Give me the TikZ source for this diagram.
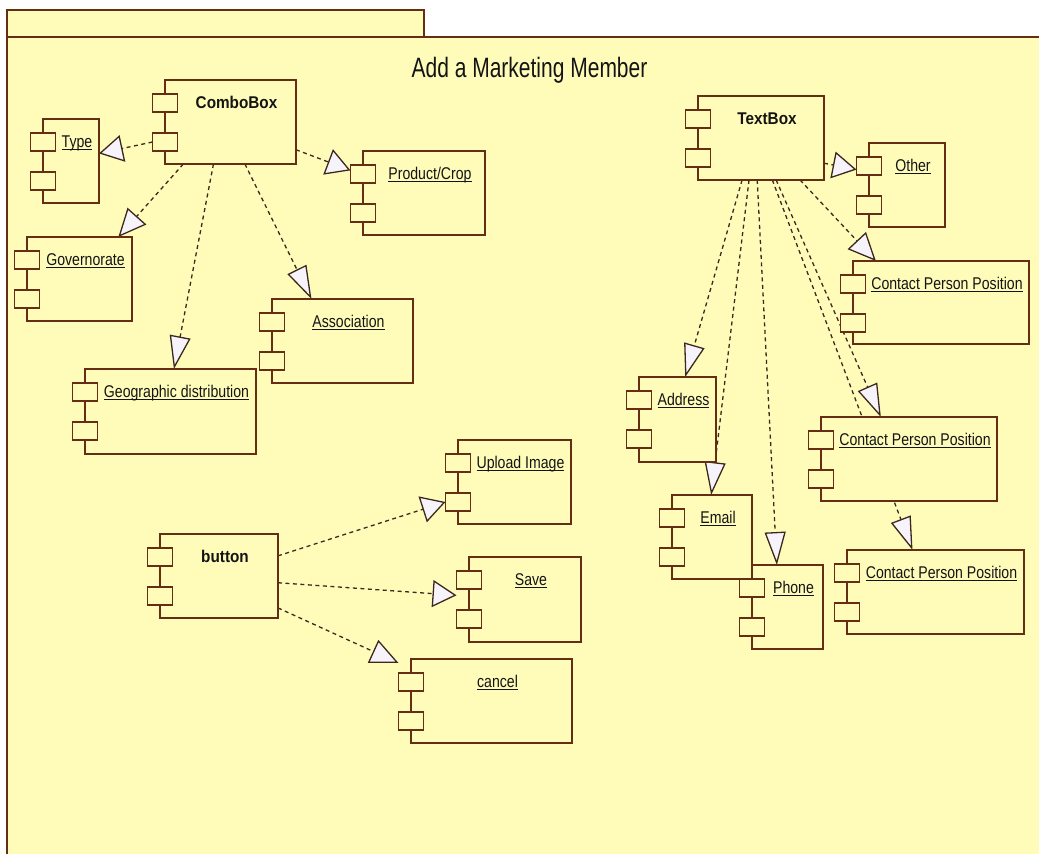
\documentclass[tikz,border=0pt]{standalone}
\usepackage{fontspec}
\setmainfont{Liberation Sans}
\newfontfamily\labfont[FakeStretch=0.83]{Liberation Sans}
\newfontfamily\bfnt[FakeStretch=0.9]{Liberation Sans Bold}
\newfontfamily\titfont[FakeStretch=0.75]{Liberation Sans}
\usetikzlibrary{arrows.meta,calc}
\definecolor{pkgfill}{RGB}{255,252,186}
\definecolor{brd}{RGB}{100,45,20}
\definecolor{conn}{RGB}{60,40,30}
\definecolor{tipfill}{RGB}{246,244,250}
\definecolor{txt}{RGB}{20,20,20}
\pgfdeclarelayer{back}
\pgfdeclarelayer{conns}
\pgfsetlayers{back,conns,main}
\newcommand\ulab[1]{\setbox0\hbox{#1}\rlap{\vrule height -2pt depth 3.3pt width \wd0}\box0}
\tikzset{
  cbox/.style={draw=brd, fill=pkgfill, line width=1.8pt, inner sep=0pt, outer sep=0pt, rectangle},
  port/.style={draw=brd, fill=pkgfill, line width=1.6pt, minimum width=25pt, minimum height=18pt, inner sep=0pt, outer sep=0pt, rectangle},
  lab/.style={font=\labfont\fontsize{17}{20}\selectfont, anchor=base, inner sep=0pt, text=txt},
  real/.style={draw=conn, line width=1.3pt, dash pattern=on 4pt off 3.5pt},
  harr/.style={real, -{Triangle[length=24pt,width=27pt,fill=tipfill,line width=1.3pt]}},
  darr/.style={real, -{Triangle[length=28pt,width=25pt,fill=tipfill,line width=1.3pt]}},
  varr/.style={real, -{Triangle[length=33pt,width=21pt,fill=tipfill,line width=1.3pt]}},
}
\newcommand\comp[6]{%
  \node[cbox, minimum width={(#4-#2)*1pt}, minimum height={(#5-#3)*1pt}] (#1) at ({(#2+#4)/2},{(#3+#5)/2}) {};
  \node[port] (#1-p1) at (#2,{#3+23}) {};
  \node[port] (#1-p2) at (#2,{#3+62}) {};
  \node[lab] (#1-l) at ({(#2+#4)/2+6},{#3+28}) {#6};
}
\begin{document}
\begin{tikzpicture}[x=1pt,y=-1pt]
\useasboundingbox (0,0) rectangle (1039,854);
\begin{pgfonlayer}{back}
  \fill[white] (0,0) rectangle (1039,854);
  \draw[brd, fill=pkgfill, line width=1.8pt] (7,37) rectangle (424,10);
  \fill[pkgfill] (7,37) rectangle (1045,860);
  \draw[brd, line width=1.8pt] (1045,37) -- (7,37) -- (7,860);
\end{pgfonlayer}
\node[font=\titfont\fontsize{28}{32}\selectfont, anchor=base, inner sep=0pt, text=txt] (title) at (529.5,77) {Add a Marketing Member};
% left group
\comp{combo}{165}{80}{296}{164}{\bfnt ComboBox}
\comp{type}{43}{119}{99}{203}{\ulab{Type}}
\comp{prod}{363}{151}{485}{235}{\ulab{Product/Crop}}
\comp{gov}{27}{237}{132}{321}{\ulab{Governorate}}
\comp{geo}{85}{369}{256}{454}{\ulab{Geographic distribution}}
\comp{assoc}{272}{299}{413}{383}{\ulab{Association}}
% right group
\comp{tb}{698}{96}{824}{180}{\bfnt TextBox}
\comp{other}{869}{143}{945}{227}{\ulab{Other}}
\comp{cpp1}{853}{261}{1029}{344}{\ulab{Contact Person Position}}
\comp{address}{639}{377}{716}{462}{\ulab{Address}}
\comp{email}{672}{495}{752}{579}{\ulab{Email}}
\comp{phone}{752}{565}{823}{649}{\ulab{Phone}}
\comp{cpp2}{821}{417}{997}{501}{\ulab{Contact Person Position}}
\comp{cpp3}{847}{550}{1024}{634}{\ulab{Contact Person Position}}
% buttons
\comp{btn}{160}{534}{278}{618}{\bfnt button}
\comp{upload}{458}{440}{571}{524}{\ulab{Upload Image}}
\comp{save}{469}{557}{581}{642}{\ulab{Save}}
\comp{cancel}{411}{659}{572}{743}{\ulab{cancel}}
\begin{pgfonlayer}{conns}
  \draw[harr] (combo-p2.west) -- ($(type.north east)!0.41!(type.south east)$);
  \draw[harr] ($(combo.north east)!0.83!(combo.south east)$) -- ($(prod-p1.north west)!0.3!(prod-p1.south west)$);
  \draw[darr] ($(combo.south west)!0.14!(combo.south east)$) -- ($(gov.north west)!0.87!(gov.north east)$);
  \draw[varr] ($(combo.south west)!0.37!(combo.south east)$) -- ($(geo.north west)!0.52!(geo.north east)$);
  \draw[varr] ($(combo.south west)!0.61!(combo.south east)$) -- ($(assoc.north west)!0.28!(assoc.north east)$);
  \draw[harr] ($(tb.north east)!0.8!(tb.south east)$) -- ($(other-p1.north west)!0.7!(other-p1.south west)$);
  \draw[darr] ($(tb.south west)!0.81!(tb.south east)$) -- ($(cpp1.north west)!0.13!(cpp1.north east)$);
  \draw[varr] ($(tb.south west)!0.35!(tb.south east)$) -- ($(address.north west)!0.6!(address.north east)$);
  \draw[varr] ($(tb.south west)!0.405!(tb.south east)$) -- ($(email.north west)!0.49!(email.north east)$);
  \draw[varr] ($(tb.south west)!0.47!(tb.south east)$) -- ($(phone.north west)!0.35!(phone.north east)$);
  \draw[varr] ($(tb.south west)!0.62!(tb.south east)$) -- ($(cpp2.north west)!0.34!(cpp2.north east)$);
  \draw[varr] ($(tb.south west)!0.59!(tb.south east)$) -- ($(cpp3.north west)!0.37!(cpp3.north east)$);
  \draw[harr] ($(btn.north east)!0.26!(btn.south east)$) -- (upload-p2.west);
  \draw[harr] ($(btn.north east)!0.58!(btn.south east)$) -- ($(save-p1.south west)!0.3!(save-p2.north west)$);
  \draw[darr] ($(btn.north east)!0.88!(btn.south east)$) -- ($(cancel-p1.north west)+(0,-10)$);
\end{pgfonlayer}
\end{tikzpicture}
\end{document}
